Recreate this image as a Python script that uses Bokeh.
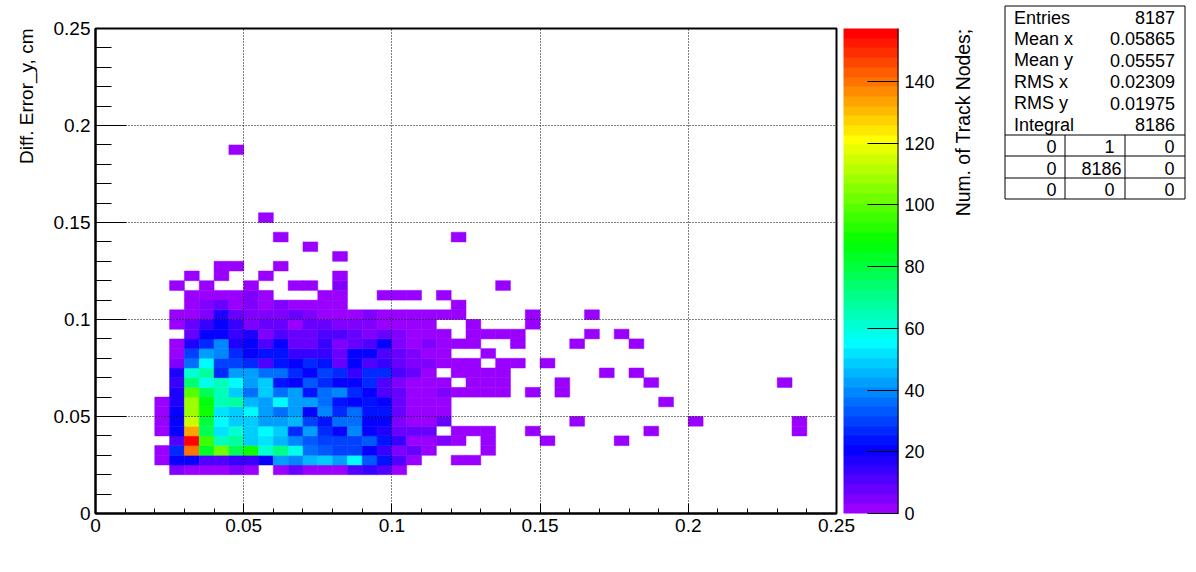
import math
from bokeh.plotting import figure
from bokeh.layouts import row as row_layout
from bokeh.core.properties import value
from bokeh.models import ColumnDataSource, LinearColorMapper, ColorBar, FixedTicker
from bokeh.embed import file_html
from bokeh.resources import INLINE

FONT = "Liberation Sans"

bin_size = 0.005
first_col = 4
# Counts per y bin (row_NN = y bin NN), from x bin 4 rightwards; missing tail = empty
row_04 = [0,4,2,2,2,4,2,0,2,8,2,2,2,10,14,11,2]
row_05 = [1,20,20,11,11,14,14,20,43,40,47,50,43,54,33,24,10,3,0,0,1,1]
row_06 = [1,28,140,82,103,76,90,62,70,58,35,32,30,29,22,13,6,9,3,0,0,0,1]
row_07 = [0,12,157,95,64,68,50,52,46,40,33,31,31,30,34,24,13,3,3,5,3,0,1,0,0,0,1,0,0,0,0,1]
row_08 = [1,20,133,76,52,60,50,55,50,28,43,28,22,40,22,16,9,7,7,0,1,1,1,0,0,1,0,0,0,0,0,0,0,1,0,0,0,0,0,0,0,0,0,1]
row_09 = [1,20,115,80,55,50,49,44,44,47,30,25,37,37,21,19,5,3,3,7,0,0,0,0,0,0,0,0,1,0,0,0,0,0,0,0,1,0,0,0,0,0,0,1]
row_10 = [1,19,110,90,53,48,54,44,37,44,21,38,26,35,24,24,9,3,3,3]
row_11 = [1,16,110,88,66,68,46,43,55,43,41,35,25,22,24,20,9,3,3,3,0,0,0,0,0,0,0,0,0,0,0,0,0,0,1]
row_12 = [0,16,100,78,65,48,35,48,35,41,25,35,38,28,22,11,8,3,3,5,2,2,2,2,0,1,0,1]
row_13 = [0,13,73,58,65,55,44,50,24,20,32,28,19,19,28,11,6,3,3,2,0,2,2,2,0,0,0,1,0,0,0,0,0,1,0,0,0,0,0,0,0,0,1]
row_14 = [0,17,62,68,28,43,44,37,37,28,20,31,26,13,26,26,11,7,3,0,2,2,2,2,0,0,0,0,0,0,1,0,1]
row_15 = [0,6,37,55,31,31,28,10,23,20,26,23,9,20,12,13,8,6,4,2,1,1,0,1,1,0,1]
row_16 = [0,2,31,43,40,28,20,25,24,13,13,13,8,20,20,10,7,4,3,2,0,0,1]
row_17 = [0,2,16,28,40,16,22,12,20,7,7,14,6,7,11,20,4,3,5,1,1,1,0,0,1,0,0,0,1,0,0,0,1]
row_18 = [0,0,9,20,22,14,17,6,12,8,9,10,10,8,4,8,4,2,2,1,0,1,1,1,1,0,0,0,0,1,0,1]
row_19 = [0,2,7,13,20,15,5,9,9,3,9,9,5,6,5,3,2,2,2,0,0,1,0,0,0,1]
row_20 = [0,2,3,5,16,9,5,6,4,7,6,3,3,3,5,2,2,1,1,1,1,0,0,0,0,1,0,0,0,1]
row_21 = [0,0,2,5,9,2,6,2,5,3,3,2,2,0,0,0,0,0,0,0,1]
row_22 = [0,0,2,2,2,2,5,2,0,0,0,2,2,0,0,1,1,1,0,1]
row_23 = [0,1,0,1,0,0,1,0,0,1,1,0,5,0,0,0,0,0,0,0,0,0,0,1]
row_24 = [0,0,1,0,1,0,0,1,0,0,0,0,1]
row_25 = [0,0,0,0,1,1,0,0,1]
row_26 = [0,0,0,0,0,0,0,0,0,0,0,0,1]
row_27 = [0,0,0,0,0,0,0,0,0,0,1]
row_28 = [0,0,0,0,0,0,0,0,1,0,0,0,0,0,0,0,0,0,0,0,1]
row_30 = [0,0,0,0,0,0,0,1]
row_37 = [0,0,0,0,0,1]
rows = {4: row_04, 5: row_05, 6: row_06, 7: row_07, 8: row_08, 9: row_09, 10: row_10,
        11: row_11, 12: row_12, 13: row_13, 14: row_14, 15: row_15, 16: row_16, 17: row_17,
        18: row_18, 19: row_19, 20: row_20, 21: row_21, 22: row_22, 23: row_23, 24: row_24,
        25: row_25, 26: row_26, 27: row_27, 28: row_28, 30: row_30, 37: row_37}

x_ticks = [0, 0.05, 0.1, 0.15, 0.2, 0.25]
x_tick_labels = ["0", "0.05", "0.1", "0.15", "0.2", "0.25"]
z_ticks = [0, 20, 40, 60, 80, 100, 120, 140]
z_max = 157.2
x_title = "Diff. (Projection - Final) Error_z, cm"
y_title = "Diff. Error_y, cm"
z_title = "Num. of Track Nodes;"

stat_names = ["Entries", "Mean x", "Mean y", "RMS x", "RMS y", "Integral"]
stat_values = ["8187", "0.05865", "0.05557", "0.02309", "0.01975", "8186"]
overflow_table = [["0", "1", "0"], ["0", "8186", "0"], ["0", "0", "0"]]

# Palette: violet - blue - cyan - green - yellow - red in 50 bands
stops = [(0, (153, 0, 255)), (20, (0, 0, 255)), (55, (0, 255, 255)),
         (88, (0, 255, 0)), (122, (255, 255, 0)), (157.2, (255, 0, 0))]
def band_colour(v):
    for (a, ca), (b, cb) in zip(stops, stops[1:]):
        if v <= b:
            t = (v - a) / (b - a)
            return "#%02x%02x%02x" % tuple(round(p + (q - p) * t) for p, q in zip(ca, cb))
    return "#ff0000"
palette = [band_colour(k / 49 * z_max) for k in range(50)]

x0, x1, y0, y1, counts = [], [], [], [], []
for j, row in rows.items():
    for k, c in enumerate(row):
        if c > 0:
            i = first_col + k
            x0.append(i * bin_size); x1.append((i + 1) * bin_size)
            y0.append(j * bin_size); y1.append((j + 1) * bin_size)
            counts.append(c)
source = ColumnDataSource(dict(x0=x0, x1=x1, y0=y0, y1=y1, count=counts))
mapper = LinearColorMapper(palette=palette, low=0, high=z_max)

FX, FY = 95, 28
LEFT_W, H = 945, 560
p = figure(width=LEFT_W, height=H, frame_width=741, frame_height=485,
           x_range=(0, 0.25), y_range=(0, 0.25), output_backend="svg", toolbar_location=None,
           min_border_left=FX, min_border_top=FY, min_border_right=LEFT_W - 836, min_border_bottom=47,
           margin=(0, 0, 0, 0), align="start", background_fill_color="white", border_fill_color="white")
fill = {"field": "count", "transform": mapper}
p.quad(left="x0", right="x1", bottom="y0", top="y1", source=source,
       fill_color=fill, line_color=fill, line_width=0.5)

p.outline_line_color = "black"
p.outline_line_width = 2
for g in (p.xgrid, p.ygrid):
    g.ticker = FixedTicker(ticks=x_ticks[1:-1])
    g.grid_line_color = "black"
    g.grid_line_dash = "1 2"
    g.grid_line_width = 1
    g.level = "overlay"

minor = [k / 100 for k in range(0, 26)]
for ax, major_in, minor_in in ((p.xaxis[0], 10, 5), (p.yaxis[0], 31, 16)):
    ax.ticker = FixedTicker(ticks=x_ticks, minor_ticks=minor)
    ax.major_label_overrides = dict(zip(x_ticks, x_tick_labels))
    ax.major_label_text_font = FONT
    ax.major_label_text_font_size = "19px"
    ax.major_label_text_color = "black"
    ax.major_label_standoff = 5
    ax.major_tick_in = major_in
    ax.major_tick_out = 0
    ax.minor_tick_in = minor_in
    ax.minor_tick_out = 0
    ax.major_tick_line_color = "black"
    ax.minor_tick_line_color = "black"
    ax.axis_line_color = "black"
    ax.axis_line_width = 2

cb = ColorBar(color_mapper=mapper, location=(748, 0), padding=0, width=55, height=485,
              ticker=FixedTicker(ticks=z_ticks), major_tick_in=31, major_tick_line_color="black",
              major_tick_line_width=1, minor_tick_line_color=None, bar_line_color=None,
              label_standoff=6, major_label_text_font=FONT, major_label_text_font_size="18px",
              major_label_text_color="black", background_fill_color=None, border_line_color=None)
p.add_layout(cb, "center")
# colour-bar axis line: a one-pixel black strip on the bar's right edge
edge = ColorBar(color_mapper=LinearColorMapper(palette=["#000000"], low=0, high=1),
                location=(802, 0), padding=0, width=1, height=485, ticker=FixedTicker(ticks=[]),
                major_tick_line_color=None, minor_tick_line_color=None, bar_line_color=None,
                major_label_text_font_size="0px", background_fill_color=None, border_line_color=None)
p.add_layout(edge, "center")

# transparent full-page overlay on a ruler in page pixels: titles and statistics box
PAGE_W = 1190
q = figure(width=PAGE_W, height=H + FY, frame_width=PAGE_W, frame_height=H,
           x_range=(0, PAGE_W), y_range=(H, 0), output_backend="svg", toolbar_location=None,
           x_axis_type=None, y_axis_type=None, min_border=0, min_border_left=0, min_border_right=0,
           min_border_top=0, min_border_bottom=0, margin=(-FY, 0, 0, -LEFT_W), align="start",
           outline_line_color=None, background_fill_alpha=0, border_fill_alpha=0)
q.grid.visible = False

box_l, box_r, box_t, box_b = 1004.5, 1184.5, 5.5, 198.5
hlines = [box_t, 134.5, 155.5, 177.5, box_b]
vlines_x = [1064.5, 1124.5]
q.segment(x0=[box_l] * len(hlines), x1=[box_r] * len(hlines), y0=hlines, y1=hlines, line_color="black", line_width=1)
q.segment(x0=[box_l, box_r] + vlines_x, x1=[box_l, box_r] + vlines_x, y0=[box_t, box_t, 134.5, 134.5],
          y1=[box_b] * 4, line_color="black", line_width=1)


def put(xs, ys, texts, align, size="18px", angle=0.0):
    q.text(x=xs, y=ys, text=texts, angle=angle, text_align=align, text_baseline="middle",
           text_font=value(FONT), text_font_size=size, text_color="black")


stat_y = [17 + k * 21.4 for k in range(len(stat_names))]
put([1013.5] * 6, stat_y, stat_names, "left")
put([1174.5] * 6, stat_y, stat_values, "right")
tx, ty, tt = [], [], []
for r, cells in enumerate(overflow_table):
    for xc, cell in zip((1051, 1109, 1169), cells):
        tx.append(1101 if cell == "8186" else xc); ty.append(146 + r * 21.6); tt.append(cell)
put(tx, ty, tt, "center")
put([962.5], [28], [z_title], "right", size="19.4px", angle=math.pi / 2)
put([838], [545], [x_title], "right", size="19px")
put([26], [28], [y_title], "right", size="19px", angle=math.pi / 2)

layout = row_layout(p, q, spacing=0, margin=(0, 0, 0, 0))
open("out.html", "w").write(file_html(layout, INLINE))
